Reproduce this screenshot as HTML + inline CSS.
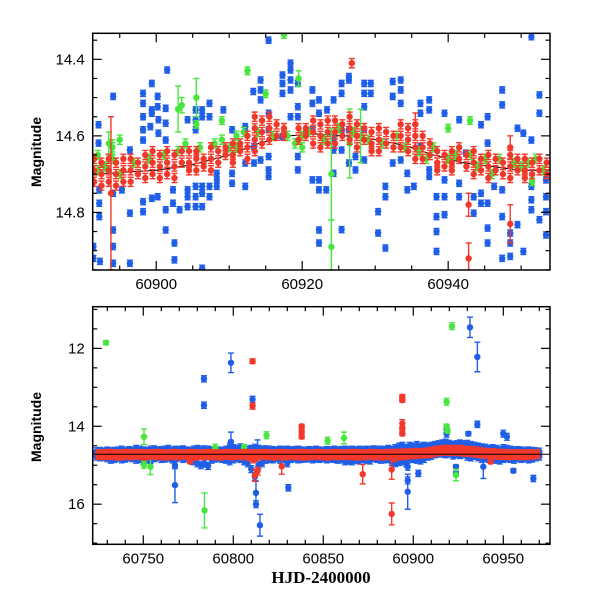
<!DOCTYPE html>
<html><head><meta charset="utf-8"><style>
html,body{margin:0;padding:0;background:#fff;}
svg{display:block;}
.tk{font-family:"Liberation Sans",sans-serif;font-size:15px;fill:#000;}
.ttl{font-family:"Liberation Sans",sans-serif;font-size:14px;font-weight:bold;fill:#000;}
.xt{font-family:"Liberation Serif",serif;font-size:17px;font-weight:bold;fill:#000;}
</style></head><body>
<svg id="chart" width="600" height="600" viewBox="0 0 600 600">
<defs>
<clipPath id="clipTop"><rect x="92.7" y="33.3" width="457.3" height="236.7"/></clipPath>
<clipPath id="clipBot"><rect x="92.7" y="306.7" width="457.3" height="237.6"/></clipPath>
</defs>
<g id="top-panel">
<g id="topMarks" clip-path="url(#clipTop)"></g>
<g id="topAxes"></g>
<text class="ttl" transform="translate(41,152) rotate(-90)" text-anchor="middle">Magnitude</text>
</g>
<g id="bottom-panel">
<g id="botMarks" clip-path="url(#clipBot)"></g>
<g id="botAxes"></g>
<text class="ttl" transform="translate(41,427) rotate(-90)" text-anchor="middle">Magnitude</text>
<text class="xt" x="321" y="583" text-anchor="middle">HJD-2400000</text>
</g>
</svg>
<script>
// ---------- TOP PANEL DATA ----------
const topBlue = [[60891.4,14.889],[60891.4,14.920],[60892.1,14.571],[60892.1,14.619],[60892.2,14.741],[60892.2,14.776],[60892.2,14.811],[60892.3,14.928],
[60894.1,14.497],[60894.1,14.846],[60894.1,14.889],[60894.1,14.933],[60894.1,14.750],
[60895.3,14.741],[60896.4,14.802],[60896.4,14.933],[60896.4,14.637],
[60898.2,14.489],[60898.2,14.515],[60898.2,14.550],[60898.2,14.584],[60898.2,14.611],[60898.2,14.772],[60898.2,14.798],
[60899.4,14.463],[60899.4,14.532],[60899.4,14.541],[60899.2,14.576],[60900.2,14.497],[60900.2,14.524],[60900.3,14.558],[60900.3,14.593],[60900.2,14.759],[60899.4,14.763],
[60901.3,14.528],[60901.3,14.567],[60901.3,14.611],[60901.3,14.793],[60901.3,14.846],[60901.5,14.428],[60902.5,14.880],[60902.5,14.924],[60902.3,14.741],[60902.3,14.776],[60903.2,14.793],
[60904.3,14.558],[60904.3,14.741],[60904.3,14.759],[60904.3,14.785],[60905.4,14.532],[60905.4,14.558],[60905.4,14.584],[60905.4,14.732],[60905.4,14.759],[60905.4,14.785],
[60906.3,14.532],[60906.3,14.550],[60906.3,14.732],[60906.3,14.750],[60906.3,14.785],[60906.3,14.946],[60907.3,14.515],[60907.3,14.550],[60907.3,14.732],[60907.3,14.759],
[60908.3,14.698],[60908.3,14.715],[60908.3,14.732],[60909.2,14.532],[60910.4,14.584],[60910.4,14.698],[60910.4,14.724],[60912.2,14.576],[60912.2,14.671],[60912.2,14.732],
[60913.3,14.484],[60913.4,14.628],[60913.4,14.671],[60914.3,14.454],[60914.3,14.480],[60914.3,14.506],[60914.3,14.663],[60915.4,14.350],[60915.4,14.541],[60915.4,14.584],[60915.4,14.654],[60915.4,14.689],[60915.4,14.706],
[60917.3,14.441],[60917.3,14.463],[60917.3,14.489],[60917.3,14.602],[60918.4,14.410],[60918.4,14.428],[60918.4,14.454],[60918.4,14.480],[60918.4,14.550],[60919.4,14.463],[60919.4,14.524],[60919.4,14.550],[60919.4,14.654],[60919.4,14.689],
[60921.4,14.480],[60921.4,14.515],[60921.4,14.584],[60921.4,14.715],[60922.3,14.506],[60922.3,14.541],[60922.3,14.715],[60922.3,14.741],[60922.3,14.846],[60922.3,14.880],[60923.3,14.741],[60923.4,14.532],[60924.3,14.506],[60924.3,14.611],[60924.3,14.637],[60924.3,14.698],[60925.4,14.845],[60925.4,14.463],[60925.4,14.489],[60925.4,14.584],[60925.4,14.637],[60926.4,14.445],[60926.4,14.454],[60926.4,14.584],[60926.4,14.671],[60927.3,14.654],[60927.3,14.689],
[60928.5,14.463],[60928.5,14.489],[60928.5,14.524],[60928.5,14.584],[60928.5,14.663],[60929.4,14.463],[60929.4,14.489],[60930.4,14.798],[60930.4,14.854],[60931.4,14.732],[60931.4,14.759],[60931.4,14.893],[60932.4,14.458],[60932.4,14.497],[60932.4,14.671],[60933.5,14.454],[60933.5,14.480],[60933.5,14.515],[60933.5,14.663],[60934.4,14.698],[60934.4,14.741],
[60935.3,14.732],[60936.2,14.515],[60936.2,14.541],[60936.2,14.628],[60937.4,14.506],[60937.4,14.532],[60937.4,14.689],[60937.4,14.706],[60938.4,14.759],[60938.4,14.811],[60938.4,14.850],[60938.4,14.902],[60939.5,14.541],[60939.5,14.715],[60939.5,14.759],[60939.5,14.806],
[60941.5,14.558],[60941.5,14.724],[60941.5,14.759],[60942.4,14.645],[60943.5,14.759],[60943.5,14.802],[60944.5,14.571],[60944.5,14.750],[60944.5,14.776],[60945.4,14.550],[60945.4,14.619],[60945.4,14.776],[60945.4,14.841],[60945.4,14.880],[60946.3,14.732],[60947.4,14.741],[60947.4,14.811],[60947.4,14.920],[60947.4,14.480],[60947.4,14.519],[60948.5,14.854],[60948.5,14.880],[60948.5,14.915],[60949.5,14.580],[60949.5,14.832],[60950.3,14.593],[60950.3,14.902],[60951.4,14.611],[60951.4,14.732],[60951.4,14.767],[60951.4,14.793],[60951.4,14.341],[60952.5,14.493],[60952.5,14.541],[60952.5,14.819],[60953.4,14.715],[60953.4,14.759],[60953.4,14.798],[60953.4,14.859]];
const topRed = [[60891.5,14.66],[60891.5,14.69],[60891.5,14.72],[60892.5,14.67],[60892.5,14.70],[60892.5,14.73],[60893.5,14.66],[60893.5,14.69],[60893.5,14.72],[60894.5,14.67],[60894.5,14.70],[60894.5,14.73],[60895.5,14.66],[60895.5,14.69],[60895.5,14.72],[60896.5,14.66],[60896.5,14.69],[60896.5,14.72],[60897.5,14.67],[60897.5,14.70],[60898.5,14.65],[60898.5,14.68],[60898.5,14.71],[60899.5,14.64],[60899.5,14.67],[60899.5,14.70],[60900.5,14.65],[60900.5,14.68],[60900.5,14.71],[60901.5,14.64],[60901.5,14.67],[60901.5,14.70],[60902.5,14.65],[60902.5,14.68],[60902.5,14.71],[60903.5,14.64],[60903.5,14.67],[60904.5,14.64],[60904.5,14.67],[60904.5,14.69],[60905.5,14.64],[60905.5,14.66],[60905.5,14.69],[60906.5,14.66],[60906.5,14.68],[60907.5,14.63],[60907.5,14.66],[60907.5,14.69],[60908.5,14.64],[60908.5,14.67],[60909.5,14.63],[60909.5,14.65],[60910.5,14.62],[60910.5,14.65],[60910.5,14.67],[60911.5,14.62],[60911.5,14.64],[60912.5,14.60],[60912.5,14.63],[60912.5,14.66],[60913.5,14.55],[60913.5,14.58],[60913.5,14.61],[60913.5,14.64],[60914.5,14.56],[60914.5,14.59],[60914.5,14.62],[60915.5,14.55],[60915.5,14.58],[60915.5,14.61],[60916.5,14.57],[60916.5,14.60],[60917.5,14.58],[60917.5,14.60],[60919.5,14.58],[60919.5,14.61],[60920.5,14.58],[60920.5,14.60],[60921.5,14.56],[60921.5,14.59],[60921.5,14.62],[60922.5,14.57],[60922.5,14.60],[60922.5,14.63],[60923.5,14.56],[60923.5,14.59],[60923.5,14.62],[60924.5,14.56],[60924.5,14.59],[60924.5,14.62],[60925.5,14.57],[60925.5,14.60],[60926.5,14.55],[60926.5,14.58],[60926.5,14.61],[60927.5,14.57],[60927.5,14.60],[60927.5,14.63],[60928.5,14.58],[60928.5,14.61],[60929.5,14.59],[60929.5,14.62],[60929.5,14.64],[60930.5,14.58],[60930.5,14.61],[60930.5,14.64],[60931.5,14.59],[60931.5,14.62],[60932.5,14.60],[60932.5,14.63],[60933.5,14.57],[60933.5,14.60],[60933.5,14.63],[60934.5,14.58],[60934.5,14.61],[60934.5,14.64],[60935.5,14.57],[60935.5,14.60],[60935.5,14.63],[60935.5,14.66],[60936.5,14.60],[60936.5,14.63],[60936.5,14.66],[60937.5,14.62],[60937.5,14.65],[60938.5,14.64],[60938.5,14.67],[60938.5,14.69],[60939.5,14.65],[60939.5,14.68],[60940.5,14.64],[60940.5,14.67],[60940.5,14.69],[60941.5,14.63],[60941.5,14.66],[60942.5,14.65],[60942.5,14.68],[60943.5,14.64],[60943.5,14.67],[60943.5,14.70],[60944.5,14.66],[60944.5,14.69],[60945.5,14.65],[60945.5,14.68],[60945.5,14.71],[60946.5,14.66],[60946.5,14.69],[60947.5,14.67],[60947.5,14.70],[60948.5,14.65],[60948.5,14.68],[60948.5,14.71],[60949.5,14.66],[60949.5,14.69],[60950.5,14.66],[60950.5,14.69],[60950.5,14.71],[60951.5,14.67],[60951.5,14.70],[60952.5,14.66],[60952.5,14.69],[60953.5,14.67],[60953.5,14.70]];
const topRedOut = [[60893.8,14.75,0.20],[60926.8,14.41,0.012],[60942.8,14.78,0.03],[60942.8,14.92,0.04],[60948.5,14.83,0.05],[60948.5,14.63,0.03],[60935.5,14.57,0.03]];
const topGreen = [[60892,14.65],[60892,14.69],[60893,14.68],[60894,14.63],[60894,14.66],[60895,14.61],[60895,14.70],[60897,14.67],[60899,14.66],[60901,14.65],[60903,14.64],[60904,14.62],[60906,14.63],[60908,14.62],[60909,14.61],[60910,14.63],[60911,14.60],[60911,14.63],[60912,14.59],[60914,14.59],[60916,14.60],[60918,14.60],[60919,14.62],[60920,14.60],[60920,14.63],[60921,14.59],[60923,14.61],[60925,14.58],[60927,14.59],[60929,14.61],[60931,14.62],[60933,14.60],[60934,14.63],[60936,14.64],[60937,14.66],[60938,14.63],[60940,14.66],[60941,14.65],[60943,14.65],[60944,14.68],[60945,14.66],[60946,14.70],[60947,14.66],[60949,14.67],[60950,14.68],[60951,14.67],[60952,14.66],[60953,14.69]];
const topGreenOut = [[60893.5,14.62,0.03],[60894,14.63,0.02],[60903,14.53,0.06],[60903.5,14.52,0.02],[60905.5,14.50,0.05],[60905.5,14.57,0.01],[60909,14.56,0.01],[60912.5,14.43,0.01],[60915,14.49,0.01],[60917.5,14.335,0.01],[60919.5,14.45,0.02],[60924,14.70,0.12],[60924,14.89,0.07],[60926.5,14.62,0.09],[60928,14.60,0.07],[60943,14.56,0.01],[60951.5,14.72,0.01],[60940,14.58,0.01]];
const topLine = [[60891.3,14.70],[60900,14.69],[60905,14.675],[60910,14.65],[60914,14.62],[60918,14.60],[60922,14.595],[60926,14.60],[60930,14.61],[60934,14.625],[60938,14.65],[60942,14.67],[60946,14.68],[60950,14.69],[60954,14.69]];
const topXTicks = [60900,60920,60940];
const topYTicks = [14.4,14.6,14.8];

// ---------- BOTTOM PANEL DATA ----------
const botBlueBase = [[60724,14.64,14.78],[60726,14.63,14.80],[60728,14.65,14.79],[60730,14.62,14.82],[60732,14.64,14.86],[60734,14.63,14.84],[60736,14.62,14.81],[60738,14.60,14.85],[60740,14.63,14.83],[60742,14.61,14.80],[60744,14.62,14.82],[60746,14.58,14.86],[60748,14.60,14.84],[60750,14.62,14.88],[60752,14.63,14.85],[60754,14.60,14.92],[60756,14.59,14.82],[60758,14.62,14.80],[60760,14.61,14.84],[60762,14.60,14.83],[60764,14.58,14.81],[60766,14.62,14.85],[60768,14.60,14.82],[60770,14.61,14.80],[60772,14.59,14.84],[60774,14.62,14.82],[60776,14.63,14.81],[60778,14.60,14.90],[60780,14.58,14.95],[60782,14.60,15.00],[60784,14.59,14.96],[60786,14.60,15.02],[60788,14.62,14.86],[60790,14.61,14.83],[60792,14.62,14.82],[60794,14.63,14.84],[60796,14.60,14.86],[60798,14.52,14.90],[60800,14.56,14.85],[60802,14.58,14.82],[60804,14.54,14.84],[60806,14.56,14.90],[60808,14.60,14.95],[60810,14.58,15.10],[60812,14.55,15.30],[60814,14.58,15.00],[60816,14.60,14.95],[60818,14.59,14.86],[60820,14.60,14.84],[60822,14.61,14.85],[60824,14.62,14.82],[60826,14.60,14.86],[60828,14.61,14.84],[60830,14.60,14.95],[60832,14.62,14.84],[60834,14.61,14.82],[60836,14.60,14.85],[60838,14.62,14.84],[60840,14.63,14.83],[60842,14.61,14.82],[60844,14.62,14.85],[60846,14.60,14.83],[60848,14.62,14.84],[60850,14.63,14.82],[60852,14.61,14.85],[60854,14.62,14.83],[60856,14.60,14.84],[60858,14.62,14.86],[60860,14.61,14.85],[60862,14.60,14.90],[60864,14.61,14.88],[60866,14.60,14.90],[60868,14.62,14.86],[60870,14.60,14.88],[60872,14.61,14.84],[60874,14.60,14.86],[60876,14.61,14.88],[60878,14.59,14.82],[60880,14.60,14.84],[60882,14.60,14.86],[60884,14.61,14.85],[60886,14.58,14.84],[60888,14.60,14.92],[60890,14.56,14.95],[60892,14.52,14.92],[60894,14.50,14.90],[60896,14.55,14.95],[60898,14.50,14.82],[60900,14.52,14.84],[60902,14.48,14.86],[60904,14.52,14.88],[60906,14.50,14.84],[60908,14.52,14.78],[60910,14.50,14.76],[60912,14.48,14.72],[60914,14.46,14.70],[60916,14.44,14.70],[60918,14.42,14.72],[60920,14.45,14.70],[60922,14.48,14.75],[60924,14.46,14.72],[60926,14.44,14.74],[60928,14.46,14.72],[60930,14.45,14.78],[60932,14.48,14.80],[60934,14.50,14.76],[60936,14.52,14.80],[60938,14.54,14.84],[60940,14.55,14.82],[60942,14.58,14.84],[60944,14.56,14.85],[60946,14.58,14.86],[60948,14.60,14.88],[60950,14.56,14.84],[60952,14.58,14.82],[60954,14.60,14.84],[60956,14.62,14.86],[60958,14.61,14.82],[60960,14.62,14.84],[60962,14.63,14.82],[60964,14.62,14.85],[60966,14.63,14.83],[60968,14.64,14.80],[60970,14.65,14.78]];
const botRedBase = [[60725,14.69,14.76],[60727,14.70,14.77],[60729,14.69,14.75],[60731,14.68,14.76],[60733,14.70,14.77],[60735,14.69,14.76],[60737,14.70,14.78],[60739,14.69,14.75],[60741,14.68,14.76],[60743,14.70,14.77],[60745,14.69,14.76],[60747,14.68,14.75],[60749,14.70,14.77],[60751,14.69,14.78],[60753,14.70,14.76],[60755,14.69,14.75],[60757,14.68,14.76],[60759,14.70,14.77],[60761,14.69,14.76],[60763,14.70,14.78],[60765,14.69,14.75],[60767,14.68,14.76],[60769,14.70,14.77],[60771,14.69,14.76],[60773,14.70,14.75],[60775,14.69,14.77],[60777,14.68,14.76],[60779,14.70,14.78],[60781,14.69,14.76],[60783,14.70,14.77],[60785,14.69,14.75],[60787,14.68,14.76],[60789,14.70,14.77],[60791,14.69,14.76],[60793,14.70,14.78],[60795,14.69,14.75],[60797,14.68,14.76],[60799,14.70,14.77],[60801,14.69,14.76],[60803,14.70,14.75],[60805,14.69,14.77],[60807,14.68,14.76],[60809,14.70,14.80],[60811,14.69,14.85],[60813,14.70,14.80],[60815,14.69,14.76],[60817,14.68,14.75],[60819,14.70,14.77],[60821,14.69,14.76],[60823,14.70,14.78],[60825,14.69,14.75],[60827,14.68,14.76],[60829,14.70,14.77],[60831,14.69,14.76],[60833,14.70,14.75],[60835,14.69,14.77],[60837,14.68,14.76],[60839,14.70,14.78],[60841,14.69,14.76],[60843,14.70,14.77],[60845,14.69,14.75],[60847,14.68,14.76],[60849,14.70,14.77],[60851,14.69,14.76],[60853,14.70,14.78],[60855,14.69,14.75],[60857,14.68,14.76],[60859,14.70,14.77],[60861,14.69,14.76],[60863,14.70,14.75],[60865,14.69,14.77],[60867,14.68,14.76],[60869,14.70,14.78],[60871,14.69,14.76],[60873,14.70,14.77],[60875,14.69,14.75],[60877,14.68,14.76],[60879,14.70,14.77],[60881,14.69,14.76],[60883,14.70,14.78],[60885,14.69,14.75],[60887,14.68,14.76],[60889,14.70,14.82],[60891,14.68,14.78],[60893,14.67,14.76],[60895,14.68,14.77],[60897,14.67,14.75],[60899,14.67,14.74],[60901,14.66,14.74],[60903,14.67,14.73],[60905,14.66,14.73],[60907,14.65,14.72],[60909,14.64,14.71],[60911,14.62,14.69],[60913,14.60,14.67],[60915,14.59,14.66],[60917,14.58,14.66],[60919,14.58,14.65],[60921,14.58,14.66],[60923,14.59,14.66],[60925,14.58,14.66],[60927,14.59,14.67],[60929,14.60,14.68],[60931,14.61,14.68],[60933,14.61,14.69],[60935,14.62,14.70],[60937,14.64,14.72],[60939,14.65,14.73],[60941,14.66,14.74],[60943,14.66,14.75],[60945,14.67,14.75],[60947,14.68,14.76],[60949,14.68,14.76],[60951,14.69,14.76],[60953,14.69,14.77],[60955,14.70,14.76],[60957,14.69,14.75],[60959,14.70,14.77],[60961,14.69,14.76],[60963,14.70,14.77],[60965,14.69,14.76],[60967,14.70,14.75],[60969,14.69,14.74]];
const botBlueOut = [[60783.7,12.78,0.08],[60783.7,13.46,0.08],[60798.7,12.37,0.25],[60810.7,13.31,0.08],[60767.6,15.51,0.45],[60767.6,15.00,0.03],[60812.6,15.71,0.3],[60812.6,16.00,0.03],[60814.8,16.54,0.28],[60830.6,15.58,0.08],[60896.9,15.68,0.45],[60896.9,15.39,0.03],[60896.9,15.04,0.03],[60896.9,14.79,0.03],[60902.8,15.21,0.08],[60918.5,14.06,0.03],[60918.5,14.19,0.03],[60923.7,15.04,0.05],[60923.7,15.21,0.05],[60930.6,14.19,0.05],[60931.5,11.46,0.26],[60935.6,12.22,0.38],[60935.6,13.95,0.08],[60938.9,15.04,0.3],[60950.0,14.19,0.03],[60952.0,14.27,0.03],[60955.6,15.14,0.05],[60966.7,15.34,0.08],[60798.7,14.40,0.25],[60813.5,14.60,0.25]];
const botRedOut = [[60810.7,12.33,0.06],[60810.7,13.48,0.08],[60838,14.00,0.05],[60838,14.14,0.05],[60838,14.27,0.05],[60812,15.26,0.15],[60813.5,15.15,0.1],[60826.9,15.03,0.2],[60871.9,15.23,0.25],[60888,16.25,0.28],[60888,15.11,0.25],[60893.9,13.24,0.05],[60893.9,13.33,0.05],[60893.9,13.93,0.1],[60893.9,14.06,0.05],[60893.9,14.19,0.05],[60943,14.91,0.05],[60776,14.91,0.05],[60927,14.55,0.05]];
const botGreenOut = [[60729.3,11.855,0.05],[60784,16.16,0.45],[60818.5,14.23,0.02],[60852.4,14.37,0.02],[60861.5,14.30,0.15],[60750.4,14.27,0.2],[60750.4,14.99,0.03],[60754,15.04,0.2],[60918.5,13.37,0.02],[60921.5,11.43,0.02],[60918.5,14.0,0.05],[60919,14.12,0.05],[60923.7,15.25,0.15],[60790,14.55,0.03],[60806,14.55,0.08]];
const botLine = [[60721.9,14.72],[60976,14.72]];
const botXTicks = [60750,60800,60850,60900,60950];
const botYTicks = [12,14,16];

const NS = 'http://www.w3.org/2000/svg';
const BLUE = '#1f5fe8', RED = '#f2382a', GREEN = '#47e63c';

function mk(tag, attrs, parent) {
  const e = document.createElementNS(NS, tag);
  for (const k in attrs) e.setAttribute(k, attrs[k]);
  parent.appendChild(e);
  return e;
}

const P = {
  top: { L: 92.7, R: 550, T: 33.3, B: 270, x0: 60891.3, x1: 60953.95, y0: 14.332, y1: 14.9505 },
  bot: { L: 92.7, R: 550, T: 306.7, B: 544.3, x0: 60721.9, x1: 60975.95, y0: 10.93, y1: 17.03 }
};
function sx(p, t) { return p.L + (t - p.x0) / (p.x1 - p.x0) * (p.R - p.L); }
function sy(p, m) { return p.T + (m - p.y0) / (p.y1 - p.y0) * (p.B - p.T); }

function point(g, p, t, m, err, color, name) {
  const x = sx(p, t), y = sy(p, m);
  const grp = mk('g', {}, g);
  
  
  const y1 = sy(p, m - err), y2 = sy(p, m + err);
  if (y2 - y1 > 3) {
    mk('line', { x1: x, x2: x, y1: y1, y2: y2, stroke: color, 'stroke-width': 1.4 }, grp);
    mk('line', { x1: x - 3, x2: x + 3, y1: y1, y2: y1, stroke: color, 'stroke-width': 1.4 }, grp);
    mk('line', { x1: x - 3, x2: x + 3, y1: y2, y2: y2, stroke: color, 'stroke-width': 1.4 }, grp);
  } else {
    mk('line', { x1: x - 3, x2: x + 3, y1: y - 3.5, y2: y - 3.5, stroke: color, 'stroke-width': 1.2 }, grp);
    mk('line', { x1: x - 3, x2: x + 3, y1: y + 3.5, y2: y + 3.5, stroke: color, 'stroke-width': 1.2 }, grp);
  }
  mk('circle', { cx: x, cy: y, r: 3.2, fill: color }, grp);
}

function line(g, p, arr, name) {
  const d = arr.map((q, i) => (i ? 'L' : 'M') + sx(p, q[0]).toFixed(1) + ' ' + sy(p, q[1]).toFixed(1)).join(' ');
  const e = mk('path', { d: d, fill: 'none', stroke: '#000', 'stroke-width': 1 }, g);
  
  
}

function axes(g, p, xt, xMinorStep, yt, yMinorStep, xdec, ydec) {
  const f = mk('rect', { x: p.L, y: p.T, width: p.R - p.L, height: p.B - p.T, fill: 'none', stroke: '#000', 'stroke-width': 1.5 }, g);
  
  
  const tg = mk('g', { stroke: '#000', 'stroke-width': 1.2 }, g);
  
  
  const xs = Math.ceil(p.x0 / xMinorStep) * xMinorStep;
  for (let v = xs; v <= p.x1; v += xMinorStep) {
    const major = xt.some(a => Math.abs(a - v) < 1e-6);
    const len = major ? 9 : 4.5, x = sx(p, v);
    mk('line', { x1: x, x2: x, y1: p.B, y2: p.B - len }, tg);
    mk('line', { x1: x, x2: x, y1: p.T, y2: p.T + len }, tg);
  }
  const ys = Math.ceil(p.y0 / yMinorStep - 1e-6) * yMinorStep;
  for (let v = ys; v <= p.y1; v += yMinorStep) {
    const major = yt.some(a => Math.abs(a - v) < 1e-6);
    const len = major ? 9 : 4.5, y = sy(p, v);
    mk('line', { x1: p.L, x2: p.L + len, y1: y, y2: y }, tg);
    mk('line', { x1: p.R, x2: p.R - len, y1: y, y2: y }, tg);
  }
  xt.forEach(v => {
    const t = mk('text', { x: sx(p, v), y: p.B + 19, 'text-anchor': 'middle', class: 'tk' }, g);
    t.textContent = v.toFixed(xdec);
    
    
  });
  yt.forEach(v => {
    const t = mk('text', { x: p.L - 8, y: sy(p, v) + 5, 'text-anchor': 'end', class: 'tk' }, g);
    t.textContent = v.toFixed(ydec);
    
    
  });
}

// TOP
const tm = document.getElementById('topMarks');
line(tm, P.top, topLine, 'mean-curve');
topBlue.forEach(q => point(tm, P.top, q[0], q[1], 0.008, BLUE, 'blue-point'));
topGreen.forEach(q => point(tm, P.top, q[0], q[1], 0.012, GREEN, 'green-point'));
topGreenOut.forEach(q => point(tm, P.top, q[0], q[1], q[2], GREEN, 'green-point'));
topRed.forEach(q => point(tm, P.top, q[0], q[1], 0.012, RED, 'red-point'));
topRedOut.forEach(q => point(tm, P.top, q[0], q[1], q[2], RED, 'red-point'));
axes(document.getElementById('topAxes'), P.top, topXTicks, 5, topYTicks, 0.05, 0, 1);

// BOTTOM
const bm = document.getElementById('botMarks');
botBlueBase.forEach(q => {
  point(bm, P.bot, q[0], q[1], 0.03, BLUE, 'blue-point');
  point(bm, P.bot, q[0], q[2], 0.03, BLUE, 'blue-point');
});
botBlueOut.forEach(q => point(bm, P.bot, q[0], q[1], q[2], BLUE, 'blue-point'));
botGreenOut.forEach(q => point(bm, P.bot, q[0], q[1], q[2], GREEN, 'green-point'));
botRedBase.forEach(q => {
  point(bm, P.bot, q[0], q[1], 0.03, RED, 'red-point');
  point(bm, P.bot, q[0], q[2], 0.03, RED, 'red-point');
});
botRedOut.forEach(q => point(bm, P.bot, q[0], q[1], q[2], RED, 'red-point'));
line(bm, P.bot, botLine, 'mean-level-line');
axes(document.getElementById('botAxes'), P.bot, botXTicks, 10, botYTicks, 0.5, 0, 0);
</script>
</body></html>
